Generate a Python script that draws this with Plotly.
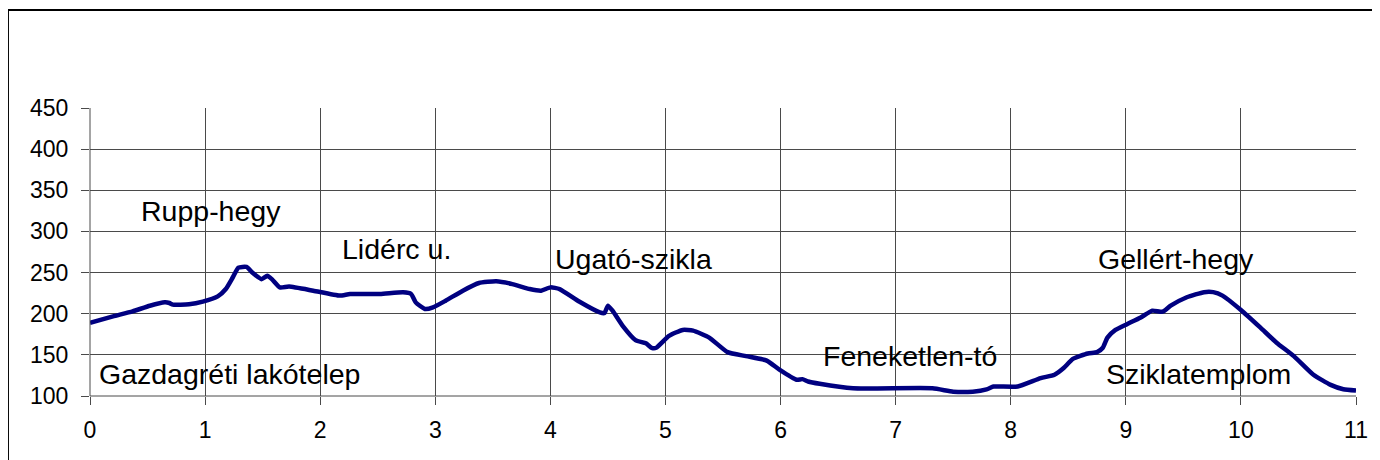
import plotly.graph_objects as go

# distance (km) and elevation (m)
dist = [0.0, 0.2, 0.37, 0.52, 0.65, 0.69, 0.72, 0.86, 0.98, 1.11, 1.18, 1.24, 1.29, 1.36, 1.41,
        1.49, 1.54, 1.58, 1.65, 1.73, 1.94, 2.17, 2.26, 2.52, 2.72, 2.79, 2.83, 2.91, 2.98, 3.09,
        3.24, 3.38, 3.53, 3.67, 3.82, 3.92, 4.0, 4.08, 4.25, 4.43, 4.47, 4.50, 4.54, 4.63, 4.74,
        4.83, 4.88, 4.92, 5.03, 5.15, 5.24, 5.38, 5.54, 5.70, 5.88, 5.99, 6.14, 6.19, 6.24, 6.34,
        6.63, 7.32, 7.50, 7.67, 7.79, 7.85, 7.91, 8.06, 8.26, 8.38, 8.46, 8.54, 8.67, 8.75, 8.80,
        8.84, 8.91, 9.01, 9.13, 9.23, 9.32, 9.39, 9.53, 9.68, 9.76, 9.84, 10.0, 10.17, 10.31,
        10.46, 10.63, 10.78, 10.89, 11.0]
elev = [189, 196.7, 202.8, 209.7, 213.8, 213, 211, 211.4, 214.6, 221, 230, 244, 256, 256.8, 250,
        242, 246, 242, 232, 233, 228, 222, 224, 224, 226, 224, 213.8, 205.7, 207.7, 215.8,
        228, 237.3, 239.4, 236, 230, 228, 232, 230, 214.8, 201.6, 200.8, 209.8, 203.7, 185, 168,
        164, 158.6, 158.6, 173, 180.3, 179.5, 171, 153.3, 148.4, 143, 132, 119.7, 120.5, 117.6, 114.8,
        109.4, 109.4, 105.3, 105.3, 108, 111.5, 111.5, 111.5, 121.7, 125.8, 134, 145, 151.6, 153.3, 158.6,
        170.9, 180.3, 187.3, 195.5, 203.7, 202.5, 209.8, 220, 226.2, 226.2, 222, 204.5, 183, 164.8,
        148.4, 125.8, 113.5, 108.2, 106.6]

label_text = ["Rupp-hegy", "Lidérc u.", "Ugató-szikla", "Feneketlen-tó",
              "Gellért-hegy", "Sziklatemplom", "Gazdagréti lakótelep"]
label_x = [0.43, 2.17, 4.02, 6.35, 8.74, 8.81, 0.06]
label_y = [325, 279, 267, 148.5, 267, 126.6, 126.6]

x_ticks = list(range(0, 12))
y_ticks = list(range(100, 451, 50))

FONT = "Liberation Sans, Arial"

fig = go.Figure()
fig.add_trace(go.Scatter(x=dist, y=elev, mode="lines",
                         line=dict(color="#000080", width=4.5, shape="spline", smoothing=0.5),
                         showlegend=False, hoverinfo="skip"))

for t, xv, yv in zip(label_text, label_x, label_y):
    fig.add_annotation(x=xv, y=yv, text=t, showarrow=False, xanchor="left",
                       yanchor="middle", font=dict(size=28.5, color="black", family=FONT))

gridc = "#4a4a4a"
fig.update_xaxes(range=[0, 11], tickvals=x_ticks, ticks="outside", ticklen=8,
                 tickcolor=gridc, showgrid=True, gridcolor=gridc, gridwidth=1,
                 showline=False, zeroline=False, ticklabelstandoff=5,
                 tickfont=dict(size=23, color="black", family=FONT))
fig.update_yaxes(range=[100, 450], tickvals=y_ticks, ticks="outside", ticklen=8,
                 tickcolor=gridc, showgrid=True, gridcolor=gridc, gridwidth=1,
                 showline=False, zeroline=False, ticklabelstandoff=8,
                 tickfont=dict(size=23, color="black", family=FONT))

# plot area border lines (left x=0 and bottom y=100 lines)
fig.add_shape(type="line", xref="paper", yref="paper", x0=0, x1=1, y0=0, y1=0,
              line=dict(color=gridc, width=1))
fig.add_shape(type="line", xref="paper", yref="paper", x0=0, x1=0, y0=0, y1=1,
              line=dict(color=gridc, width=1))
# outer chart frame
fig.add_shape(type="line", xref="paper", yref="paper", x0=-0.0648, x1=-0.0648,
              y0=-0.3, y1=1.34, line=dict(color="black", width=2))
fig.add_shape(type="line", xref="paper", yref="paper", x0=-0.0648, x1=1.05,
              y0=1.34, y1=1.34, line=dict(color="black", width=2))

fig.update_layout(width=1380, height=460, paper_bgcolor="white", plot_bgcolor="white",
                  margin=dict(l=82, r=32, t=100, b=72, autoexpand=False), showlegend=False)

fig.write_html("out.html")
